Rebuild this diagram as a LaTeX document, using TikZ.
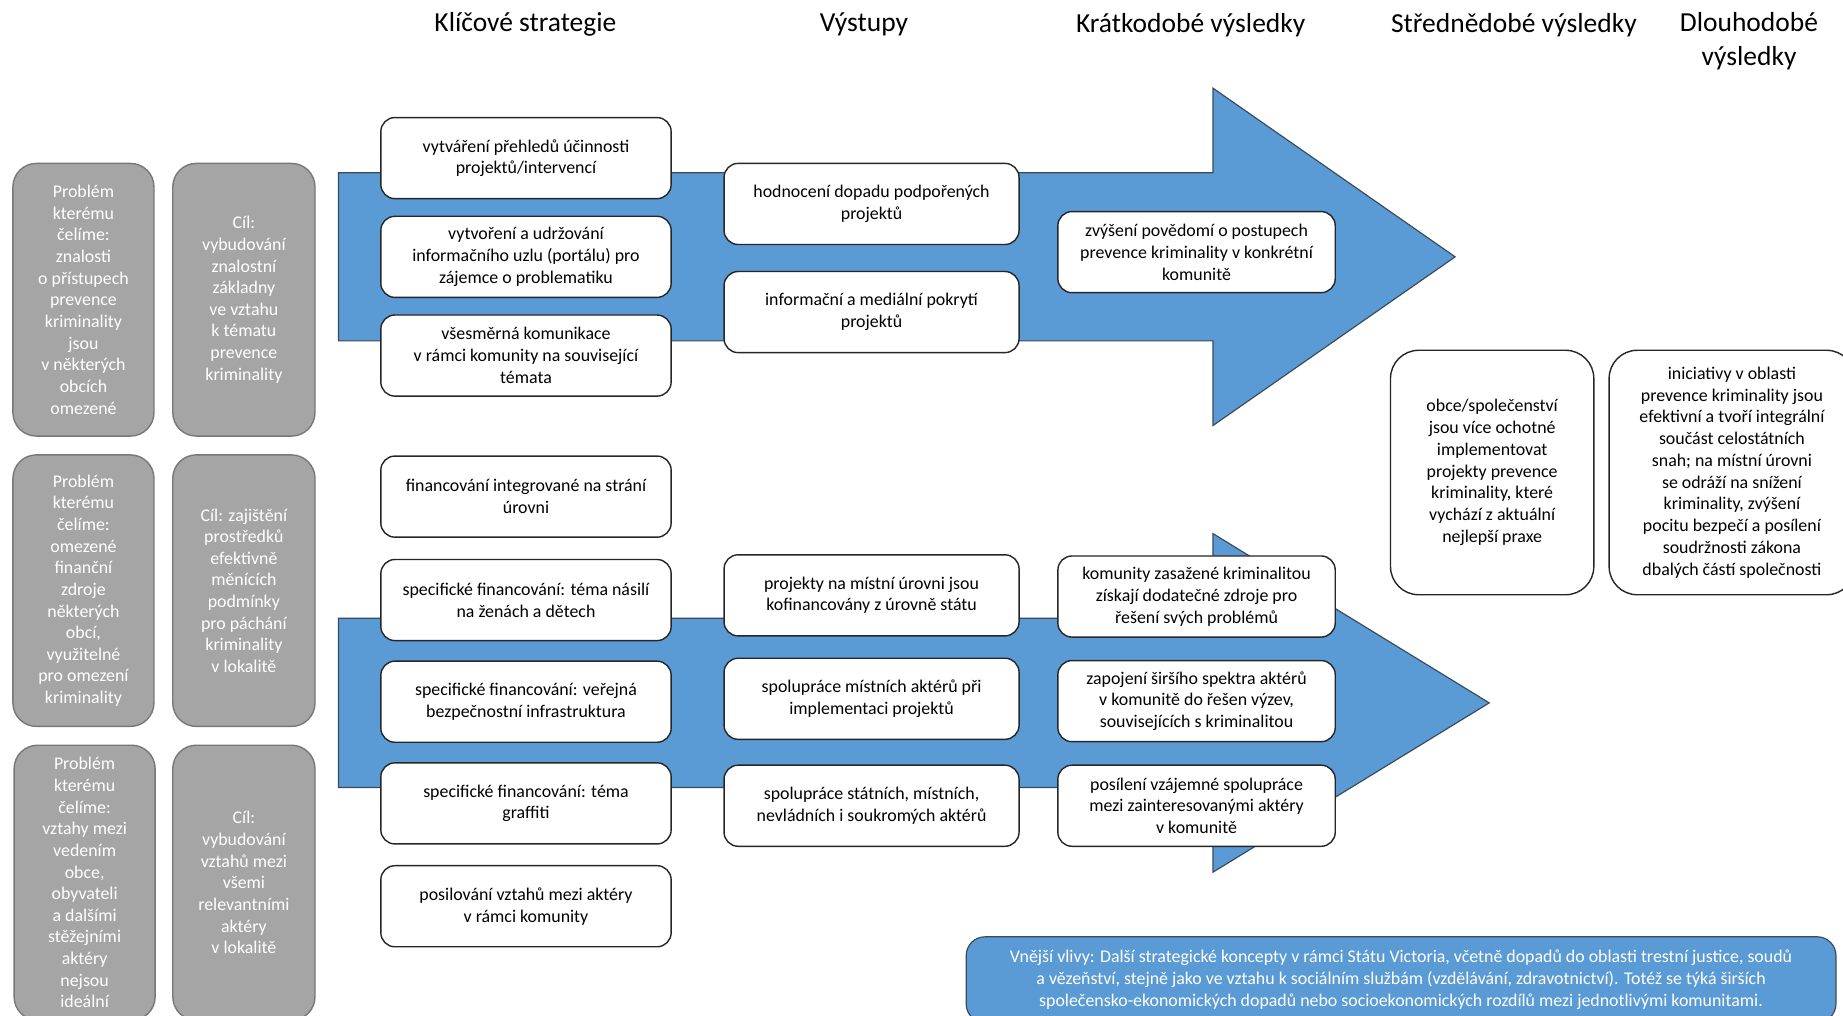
\documentclass[tikz,border=0pt]{standalone}
\usepackage{fontspec}
\setmainfont{Carlito}
\definecolor{arrowblue}{HTML}{5B9BD5}
\definecolor{arrowline}{HTML}{3A4A5A}
\definecolor{grayfill}{RGB}{165,165,165}
\definecolor{grayline}{RGB}{120,120,120}
\begin{document}
\begin{tikzpicture}[x=0.5pt,y=-0.5pt,
  txt/.style={font=\fontsize{7.6}{9.25}\selectfont},
  wbox/.style={txt,draw=black!85, line width=0.6pt, fill=white, rounded corners=6pt, align=center, inner sep=0pt, text=black, minimum height=34.5pt},
  sbox/.style={wbox, minimum width=123.5pt},
  obox/.style={wbox, minimum width=125.5pt},
  kbox/.style={wbox, minimum width=118pt},
  bigbox/.style={wbox, rounded corners=12pt, minimum height=104pt},
  gbox/.style={font=\fontsize{7.6}{9.2}\selectfont, draw=grayline, line width=0.6pt, fill=grayfill, rounded corners=10pt, text=white, align=center, inner sep=0pt},
  hdr/.style={font=\fontsize{11.7}{14.2}\selectfont, align=center, inner sep=0pt},
  bigarrow/.style={fill=arrowblue, draw=arrowline, line width=0.5pt}
]
\useasboundingbox (0,0) rectangle (1568,864);
\clip (0,0) rectangle (1568,864);

% headers
\node[hdr] (h1) at (447,21) {Klíčové strategie};
\node[hdr] (h2) at (735,21) {Výstupy};
\node[hdr] (h3) at (1013,21) {Krátkodobé výsledky};
\node[hdr] (h4) at (1288,21) {Střednědobé výsledky};
\node[hdr] (h5) at (1488,35) {Dlouhodobé\\výsledky};

% arrows
\draw[bigarrow] (288,147) -- (1032,147) -- (1032,75) -- (1238,218.5) -- (1032,362) -- (1032,290) -- (288,290) -- cycle;
\draw[bigarrow] (288,526) -- (1032,526) -- (1032,454) -- (1267,598) -- (1032,742) -- (1032,670) -- (288,670) -- cycle;

% gray problem / goal boxes
\node[gbox, minimum width=60pt, minimum height=116pt] (p1) at (71,255) {Problém\\kterému\\čelíme:\\znalosti\\o přístupech\\prevence\\kriminality\\jsou\\v některých\\obcích\\omezené};
\node[gbox, minimum width=60.5pt, minimum height=116pt] (c1) at (207.5,255) {Cíl:\\vybudování\\znalostní\\základny\\ve vztahu\\k tématu\\prevence\\kriminality};
\node[gbox, minimum width=60pt, minimum height=115.5pt] (p2) at (71,502.5) {Problém\\kterému\\čelíme:\\omezené\\finanční\\zdroje\\některých\\obcí,\\využitelné\\pro omezení\\kriminality};
\node[gbox, minimum width=60.5pt, minimum height=115.5pt] (c2) at (207.5,502.5) {Cíl: zajištění\\prostředků\\efektivně\\měnících\\podmínky\\pro páchání\\kriminality\\v lokalitě};
\node[gbox, minimum width=60pt, minimum height=117pt] (p3) at (72,751) {Problém\\kterému\\čelíme:\\vztahy mezi\\vedením\\obce,\\obyvateli\\a dalšími\\stěžejními\\aktéry\\nejsou\\ideální};
\node[gbox, minimum width=60.5pt, minimum height=117pt] (c3) at (207.5,751) {Cíl:\\vybudování\\vztahů mezi\\všemi\\relevantními\\aktéry\\v lokalitě};

% key strategies
\node[sbox] (s1) at (447.5,134.5) {vytváření přehledů účinnosti\\projektů/intervencí};
\node[sbox] (s2) at (447.5,218.5) {vytvoření a udržování\\informačního uzlu (portálu) pro\\zájemce o problematiku};
\node[sbox] (s3) at (447.5,302.5) {všesměrná komunikace\\v rámci komunity na související\\témata};
\node[sbox] (s4) at (447.5,422.5) {financování integrované na strání\\úrovni};
\node[sbox] (s5) at (447.5,510.5) {specifické financování: téma násilí\\na ženách a dětech};
\node[sbox] (s6) at (447.5,597) {specifické financování: veřejná\\bezpečnostní infrastruktura};
\node[sbox] (s7) at (447.5,683.5) {specifické financování: téma\\graffiti};
\node[sbox] (s8) at (447.5,771) {posilování vztahů mezi aktéry\\v rámci komunity};

% outputs
\node[obox] (o1) at (741.5,173.5) {hodnocení dopadu podpořených\\projektů};
\node[obox] (o2) at (741.5,265.5) {informační a mediální pokrytí\\projektů};
\node[obox] (o3) at (741.5,506.5) {projekty na místní úrovni jsou\\kofinancovány z úrovně státu};
\node[obox] (o4) at (741.5,594.5) {spolupráce místních aktérů při\\implementaci projektů};
\node[obox] (o5) at (741.5,685.5) {spolupráce státních, místních,\\nevládních i soukromých aktérů};

% short-term outcomes
\node[kbox] (k1) at (1018,214.5) {zvýšení povědomí o postupech\\prevence kriminality v konkrétní\\komunitě};
\node[kbox] (k2) at (1018,507.5) {komunity zasažené kriminalitou\\získají dodatečné zdroje pro\\řešení svých problémů};
\node[kbox] (k3) at (1018,596.5) {zapojení širšího spektra aktérů\\v komunitě do řešen výzev,\\souvisejících s kriminalitou};
\node[kbox] (k4) at (1018,685.5) {posílení vzájemné spolupráce\\mezi zainteresovanými aktéry\\v komunitě};

% medium and long-term outcomes
\node[bigbox, minimum width=86.5pt] (m1) at (1269.5,402) {obce/společenství\\jsou více ochotné\\implementovat\\projekty prevence\\kriminality, které\\vychází z aktuální\\nejlepší praxe};
\node[bigbox, minimum width=104.5pt] (l1) at (1473.5,402) {iniciativy v oblasti\\prevence kriminality jsou\\efektivní a tvoří integrální\\součást celostátních\\snah; na místní úrovni\\se odráží na snížení\\kriminality, zvýšení\\pocitu bezpečí a posílení\\soudržnosti zákona\\dbalých částí společnosti};

% external influences
\node[txt, draw=arrowline, line width=0.5pt, fill=arrowblue, rounded corners=8pt, text=white, align=center, inner sep=0pt, minimum width=370pt, minimum height=36.5pt, font=\fontsize{7.6}{9.5}\selectfont] (ext) at (1192,833.5) {Vnější vlivy: Další strategické koncepty v rámci Státu Victoria, včetně dopadů do oblasti trestní justice, soudů\\a vězeňství, stejně jako ve vztahu k sociálním službám (vzdělávání, zdravotnictví). Totéž se týká širších\\společensko-ekonomických dopadů nebo socioekonomických rozdílů mezi jednotlivými komunitami.};
\end{tikzpicture}
\end{document}
